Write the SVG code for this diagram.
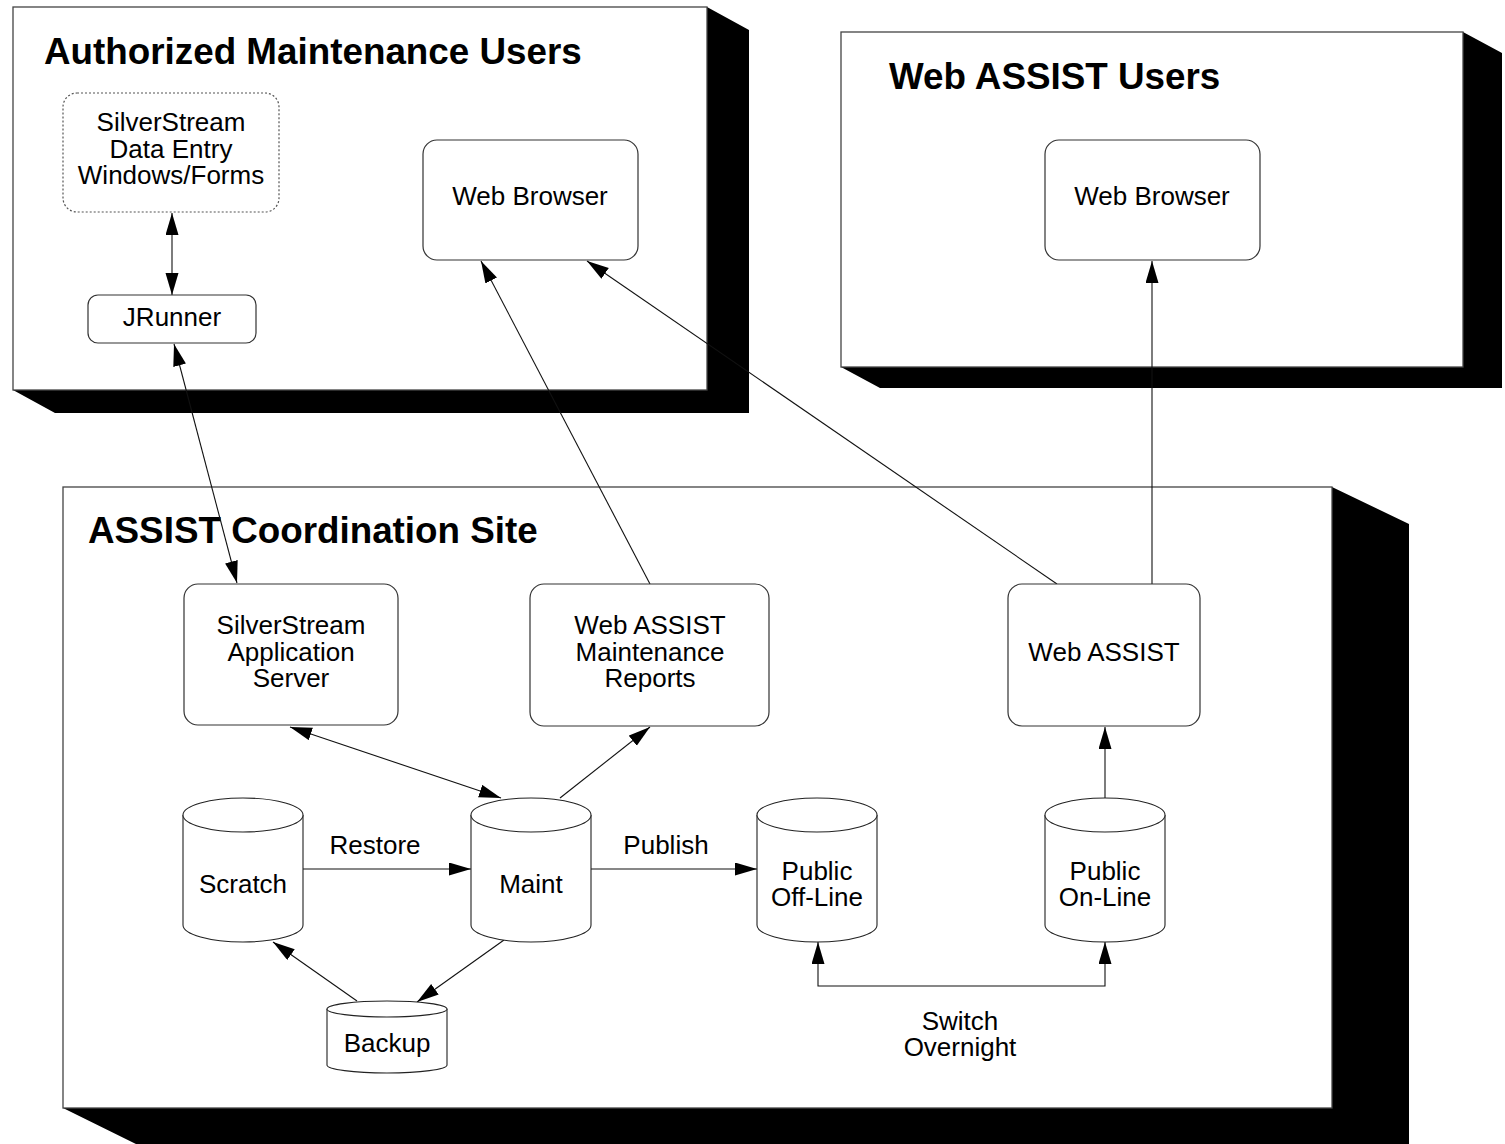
<svg xmlns="http://www.w3.org/2000/svg" width="1505" height="1144" viewBox="0 0 1505 1144">
<style>
text{font-family:"Liberation Sans",Arial,Helvetica,sans-serif;fill:#000}
.title{font-size:36.8px;font-weight:bold}
.lbl{font-size:26px;text-anchor:middle}
.frame{fill:#fff;stroke:#444;stroke-width:1.3}
.shadow{fill:#000;stroke:none}
.node{fill:#fff;stroke:#333;stroke-width:1.2}
.dotted{fill:#fff;stroke:#555;stroke-width:1.2;stroke-dasharray:2,2}
.cyl{fill:#fff;stroke:#222;stroke-width:1.1}
.conn{fill:none;stroke:#111;stroke-width:1.1}
.end{marker-end:url(#ah)}
.both{marker-end:url(#ah);marker-start:url(#ah)}
</style>
<defs>
<marker id="ah" markerUnits="userSpaceOnUse" markerWidth="24" markerHeight="14" refX="22" refY="6.5" orient="auto-start-reverse" viewBox="0 0 24 14">
<path d="M0,0 L22,6.5 L0,13 Z" fill="#000"/>
</marker>
</defs>
<rect width="1505" height="1144" fill="#fff"/>

<g id="site-authorized">
<polygon class="shadow" points="707,7 749,30 749,413 55,413 13,390 707,390"/>
<rect class="frame" x="13" y="7" width="694" height="383"/>
<text class="title" x="44" y="64">Authorized Maintenance Users</text>
</g>
<g id="site-webusers">
<polygon class="shadow" points="1463,32 1502,53 1502,388 880,388 841,367 1463,367"/>
<rect class="frame" x="841" y="32" width="622" height="335"/>
<text class="title" x="889" y="89">Web ASSIST Users</text>
</g>
<g id="site-coordination">
<polygon class="shadow" points="1332,487 1409,524 1409,1146 140,1146 63,1108 1332,1108"/>
<rect class="frame" x="63" y="487" width="1269" height="621"/>
<text class="title" x="88" y="543">ASSIST Coordination Site</text>
</g>

<g id="connectors">
<line class="conn both" x1="172" y1="213" x2="172" y2="295"/>
<line class="conn both" x1="174" y1="344" x2="237" y2="583"/>
<line class="conn both" x1="290" y1="727" x2="501" y2="798"/>
<line class="conn end" x1="560" y1="798" x2="650" y2="727"/>
<line class="conn end" x1="650" y1="584" x2="481" y2="261"/>
<line class="conn end" x1="1057" y1="584" x2="587" y2="261"/>
<line class="conn end" x1="1152" y1="584" x2="1152" y2="261"/>
<line class="conn end" x1="1105" y1="798" x2="1105" y2="727"/>
<line class="conn end" x1="303" y1="869" x2="471" y2="869"/>
<line class="conn end" x1="591" y1="869" x2="757" y2="869"/>
<line class="conn end" x1="504" y1="940" x2="417" y2="1002"/>
<line class="conn end" x1="357" y1="1001" x2="273" y2="942"/>
<polyline class="conn both" points="818,942 818,986 1105,986 1105,942"/>
<text class="lbl" x="375" y="854">Restore</text>
<text class="lbl" x="666" y="854">Publish</text>
<text class="lbl" x="960" y="1030">Switch</text>
<text class="lbl" x="960" y="1056">Overnight</text>
</g>

<g id="node-dataentry">
<rect class="dotted" x="63" y="93" width="216" height="119" rx="14"/>
<text class="lbl" x="171" y="131">SilverStream</text>
<text class="lbl" x="171" y="158">Data Entry</text>
<text class="lbl" x="171" y="184">Windows/Forms</text>
</g>
<g id="node-jrunner">
<rect class="node" x="88" y="295" width="168" height="48" rx="10"/>
<text class="lbl" x="172" y="326">JRunner</text>
</g>
<g id="node-browser-maint">
<rect class="node" x="423" y="140" width="215" height="120" rx="14"/>
<text class="lbl" x="530" y="205">Web Browser</text>
</g>
<g id="node-browser-users">
<rect class="node" x="1045" y="140" width="215" height="120" rx="14"/>
<text class="lbl" x="1152" y="205">Web Browser</text>
</g>
<g id="node-appserver">
<rect class="node" x="184" y="584" width="214" height="141" rx="14"/>
<text class="lbl" x="291" y="634">SilverStream</text>
<text class="lbl" x="291" y="661">Application</text>
<text class="lbl" x="291" y="687">Server</text>
</g>
<g id="node-reports">
<rect class="node" x="530" y="584" width="239" height="142" rx="14"/>
<text class="lbl" x="650" y="634">Web ASSIST</text>
<text class="lbl" x="650" y="661">Maintenance</text>
<text class="lbl" x="650" y="687">Reports</text>
</g>
<g id="node-webassist">
<rect class="node" x="1008" y="584" width="192" height="142" rx="14"/>
<text class="lbl" x="1104" y="661">Web ASSIST</text>
</g>

<g id="node-scratch">
<path class="cyl" d="M183,815 A60,17 0 0,1 303,815 L303,925 A60,17 0 0,1 183,925 Z"/>
<path class="cyl" fill="none" d="M183,815 A60,17 0 0,0 303,815"/>
<text class="lbl" x="243" y="893">Scratch</text>
</g>
<g id="node-maint">
<path class="cyl" d="M471,815 A60,17 0 0,1 591,815 L591,925 A60,17 0 0,1 471,925 Z"/>
<path class="cyl" fill="none" d="M471,815 A60,17 0 0,0 591,815"/>
<text class="lbl" x="531" y="893">Maint</text>
</g>
<g id="node-offline">
<path class="cyl" d="M757,815 A60,17 0 0,1 877,815 L877,925 A60,17 0 0,1 757,925 Z"/>
<path class="cyl" fill="none" d="M757,815 A60,17 0 0,0 877,815"/>
<text class="lbl" x="817" y="880">Public</text>
<text class="lbl" x="817" y="906">Off-Line</text>
</g>
<g id="node-online">
<path class="cyl" d="M1045,815 A60,17 0 0,1 1165,815 L1165,925 A60,17 0 0,1 1045,925 Z"/>
<path class="cyl" fill="none" d="M1045,815 A60,17 0 0,0 1165,815"/>
<text class="lbl" x="1105" y="880">Public</text>
<text class="lbl" x="1105" y="906">On-Line</text>
</g>
<g id="node-backup">
<path class="cyl" d="M327,1009 A60,8 0 0,1 447,1009 L447,1065 A60,8 0 0,1 327,1065 Z"/>
<path class="cyl" fill="none" d="M327,1009 A60,8 0 0,0 447,1009"/>
<text class="lbl" x="387" y="1052">Backup</text>
</g>
</svg>
